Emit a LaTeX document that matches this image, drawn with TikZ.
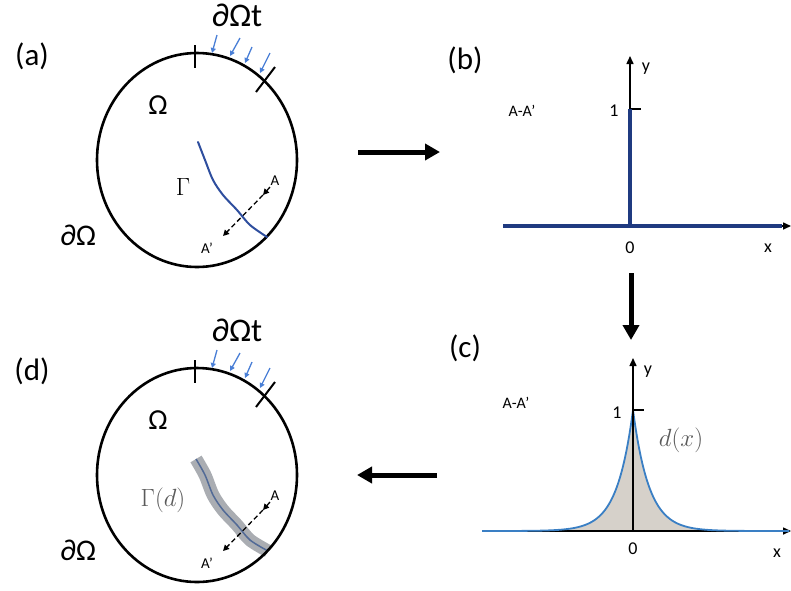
\documentclass[tikz,border=0pt]{standalone}
\usepackage{fontspec}
\setmainfont{Carlito}
\usetikzlibrary{arrows.meta}
\definecolor{tblue}{HTML}{4A7FD6}
\definecolor{gblue}{HTML}{2E4E9E}
\definecolor{navyline}{HTML}{1F3A80}
\definecolor{curveblue}{HTML}{3A7FC4}
\definecolor{fillgrey}{HTML}{D6D1CA}
\definecolor{bandgrey}{HTML}{AAADB2}
\definecolor{bandline}{HTML}{526A96}
\definecolor{mathgrey}{HTML}{5A5A5A}
\tikzset{
  bigarrow/.style={line width=5pt, -{Triangle[length=15pt,width=16pt]}},
  axisline/.style={line width=1.5pt, -{Triangle[length=8pt,width=7pt]}},
  tractionarrow/.style={tblue, line width=1.3pt, -{Triangle[length=5pt,width=5pt]}},
  rim/.style={line width=2.6pt},
  tickmark/.style={line width=2pt},
  sectionline/.style={line width=1.3pt, dash pattern=on 5pt off 3pt, -{Triangle[length=6pt,width=6pt]}},
  panellabel/.style={font=\fontsize{31}{34}\selectfont},
  bigsym/.style={font=\fontsize{33}{36}\selectfont},
  midsym/.style={font=\fontsize{29}{32}\selectfont},
  bdsym/.style={font=\fontsize{30}{33}\selectfont},
  smalltext/.style={font=\fontsize{16}{18}\selectfont},
  ptlabel/.style={font=\fontsize{15}{17}\selectfont},
  axistext/.style={font=\fontsize{18}{20}\selectfont},
  domain panel/.pic={
    \draw[rim] (0,0) ellipse [x radius=100pt, y radius=107pt];
    \coordinate (-c) at (0,0);
    \draw[tickmark] (-2,-115) -- (-2,-92);
    \draw[tickmark] (59,-68) -- (78,-93);
    \draw[tractionarrow] (20,-125) -- (15,-107);
    \draw[tractionarrow] (43,-122) -- (33,-104);
    \draw[tractionarrow] (55,-113) -- (48,-97);
    \draw[tractionarrow] (73,-107) -- (63,-87);
    \node[bigsym] (-dt) at (40,-145) {∂Ωt};
    \node[midsym] (-om) at (-39,-55) {Ω};
    \node[bdsym] (-bd) at (-119,75) {∂Ω};
    \node[ptlabel] (-A) at (78,21) {A};
    \node[ptlabel] (-Ap) at (10,88) {A’};
    \coordinate (-s0) at (73,27);
    \coordinate (-s1) at (66,35);
    \coordinate (-s2) at (26,76);
    \draw[sectionline] (-s0) -- (-s1);
    \draw[sectionline] (-s1) -- (-s2);
  }
}
\begin{document}
\begin{tikzpicture}[x=1pt,y=-1pt]
\useasboundingbox (0,0) rectangle (791,590);

% ---------- panel (a)
\node[panellabel] (la) at (32,56) {(a)};
\pic (pa) at (197,160) {domain panel};
\begin{scope}[shift={(197,160)}]
  \draw[gblue, line width=2pt, line cap=round]
    plot[smooth] coordinates {(1,-18) (8,0) (16,20) (26,35) (40,50) (53,65) (70,77)};
  \node[font=\fontsize{25}{28}\selectfont] (gam) at (-14,27) {$\Gamma$};
\end{scope}

% ---------- panel (b)
\node[panellabel] (lb) at (465,60) {(b)};
\coordinate (bo) at (630,226);
\coordinate (bxl) at (503,226);
\coordinate (bxr) at (791,226);
\coordinate (byt) at (630,56);
\coordinate (bone) at (630,109);
\draw[axisline] (bxl) -- (bxr);
\draw[axisline] (bo) -- (byt);
\draw[line width=1.5pt] (bone) -- ++(11,0);
\draw[navyline, line width=3.5pt] (bxl) -- (782,226);
\draw[navyline, line width=3.5pt] (bo) -- (bone);
\node[smalltext] (bsec) at (522,111) {A-A’};
\node[axistext] (b1) at (614,111) {1};
\node[axistext] (by) at (646,69) {y};
\node[axistext] (b0) at (630,248) {0};
\node[axistext] (bx) at (768,248) {x};

% ---------- panel (c)
\node[panellabel] (lc) at (465,348) {(c)};
\coordinate (co) at (633,531);
\coordinate (cxl) at (482,531);
\coordinate (cxr) at (791,531);
\coordinate (cyt) at (633,358);
\coordinate (cone) at (633,410);
\fill[fillgrey] (cxl) -- plot[domain=-151:0, samples=120] ({633+\x},{531-121*exp(\x/16)})
   -- plot[domain=0:158, samples=120] ({633+\x},{531-121*exp(-\x/16)}) -- (cxr) -- cycle;
\draw[axisline] (cxl) -- (cxr);
\draw[curveblue, line width=1.8pt]
   plot[domain=-151:0, samples=120] ({633+\x},{531-121*exp(\x/16)})
   -- plot[domain=0:156, samples=120] ({633+\x},{531-121*exp(-\x/16)});
\draw[axisline] (co) -- (cyt);
\draw[line width=1.5pt] (cone) -- ++(11,0);
\node[smalltext] (csec) at (516,403) {A-A’};
\node[axistext] (c1) at (617,413) {1};
\node[axistext] (cy) at (648,372) {y};
\node[axistext] (c0) at (633,549) {0};
\node[axistext] (cx) at (777,553) {x};
\node[mathgrey, font=\fontsize{28}{31}\selectfont] (dx) at (681,440) {$d(x)$};

% ---------- panel (d)
\node[panellabel] (ld) at (32,371) {(d)};
\begin{scope}[shift={(197,475)}]
  \draw[bandgrey, line width=13pt]
    plot[smooth] coordinates {(-1,-16) (8,0) (16,20) (26,35) (40,50) (53,65) (71,76)};
  \draw[bandline, line width=1.5pt]
    plot[smooth] coordinates {(-1,-16) (8,0) (16,20) (26,35) (40,50) (53,65) (71,76)};
  \node[mathgrey, font=\fontsize{25}{28}\selectfont] (gamd) at (-34,25) {$\Gamma(d)$};
\end{scope}
\pic (pd) at (197,475) {domain panel};

% ---------- connecting arrows
\coordinate (ab0) at (358,152);
\coordinate (ab1) at (440,152);
\coordinate (bc0) at (631,273);
\coordinate (bc1) at (631,340);
\coordinate (cd0) at (437,475);
\coordinate (cd1) at (357,475);
\draw[bigarrow] (ab0) -- (ab1);
\draw[bigarrow] (bc0) -- (bc1);
\draw[bigarrow] (cd0) -- (cd1);
\end{tikzpicture}
\end{document}
